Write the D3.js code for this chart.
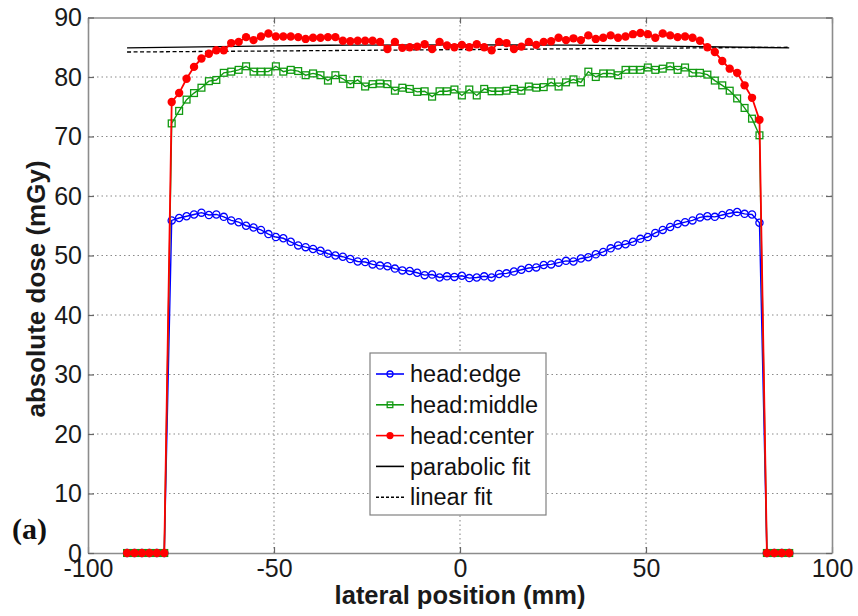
<!DOCTYPE html>
<html>
<head>
<meta charset="utf-8">
<script src="https://cdn.jsdelivr.net/npm/d3@7"></script>
<style>
  body { margin: 0; background: #fff; }
  svg { display: block; }
</style>
</head>
<body>
<svg id="chart" width="858" height="616"></svg>
<script>
// Lateral sample positions (mm)
const positions = [-89.5,-87.5,-85.5,-83.5,-81.5,-79.5,-77.5,-75.5,-73.5,-71.5,-69.5,-67.5,-65.5,-63.5,-61.5,-59.5,-57.5,-55.5,-53.5,-51.5,-49.5,-47.5,-45.5,-43.5,-41.5,-39.5,-37.5,-35.5,-33.5,-31.5,-29.5,-27.5,-25.5,-23.5,-21.5,-19.5,-17.5,-15.5,-13.5,-11.5,-9.5,-7.5,-5.5,-3.5,-1.5,0.5,2.5,4.5,6.5,8.5,10.5,12.5,14.5,16.5,18.5,20.5,22.5,24.5,26.5,28.5,30.5,32.5,34.5,36.5,38.5,40.5,42.5,44.5,46.5,48.5,50.5,52.5,54.5,56.5,58.5,60.5,62.5,64.5,66.5,68.5,70.5,72.5,74.5,76.5,78.5,80.5,82.5,84.5,86.5,88.5];

// Absolute dose (mGy) per phantom location
const headEdge = [0,0,0,0,0,0,
  55.9,56.3,56.6,56.9,57.2,56.8,56.9,56.5,55.9,55.6,55.0,54.7,54.3,53.6,53.1,52.9,52.3,51.7,51.4,51.1,50.8,50.3,50.0,49.8,49.4,49.0,48.9,48.5,48.3,48.2,47.8,47.5,47.4,47.1,46.7,46.8,46.3,46.5,46.4,
  46.6,46.2,46.3,46.5,46.3,46.9,47.0,47.3,47.6,47.9,48.0,48.4,48.5,48.8,49.1,49.0,49.5,49.7,50.2,50.6,51.2,51.7,51.9,52.3,52.8,53.1,53.8,54.3,54.8,55.3,55.6,55.9,56.4,56.6,56.5,56.8,57.1,57.3,57.0,56.9,55.5,
  0,0,0,0];

const headMiddle = [0,0,0,0,0,0,
  72.2,74.3,76.2,77.3,78.2,79.3,79.5,80.7,80.9,81.2,81.8,80.9,80.9,80.9,81.8,80.9,81.2,81.0,80.3,80.6,80.3,79.4,80.3,
  79.7,78.8,79.5,78.4,78.8,78.9,78.8,77.7,78.2,78.0,77.5,77.6,76.7,77.6,77.6,77.9,76.9,77.9,76.9,78.0,77.6,77.6,77.7,78.0,77.7,78.4,78.2,78.3,79.1,78.4,79.1,
  79.6,79.1,80.9,80.0,80.6,80.6,80.3,81.2,81.2,81.2,81.6,81.2,81.4,81.8,81.2,81.6,80.7,80.7,80.4,79.4,78.6,77.7,76.4,74.8,73.0,70.2,
  0,0,0,0];

const headCenter = [0,0,0,0,0,0,
  75.8,77.3,79.7,81.7,83.1,83.9,84.5,84.5,85.7,85.9,86.7,86.2,86.8,87.3,86.8,86.8,86.8,86.7,86.4,86.6,86.6,86.7,86.7,
  86.1,86.0,86.1,86.1,86.1,85.9,84.7,85.9,84.9,85.0,85.1,85.5,84.7,85.9,85.3,85.0,85.4,85.0,85.5,85.0,84.5,85.9,85.7,84.7,85.1,85.9,85.4,85.9,86.0,86.6,86.2,
  86.5,86.2,87.0,86.4,86.6,87.0,86.6,86.8,87.2,87.4,87.2,86.6,87.3,87.0,86.7,86.8,86.6,86.1,85.0,84.2,82.7,81.4,80.7,78.6,76.5,72.8,
  0,0,0,0];

// Fitted profiles of the central dose
const parabolicX = [-89.5,-60,-30,0,30,60,88.5];
const parabolicFit = [84.9,85.15,85.35,85.4,85.35,85.15,84.9];
const linearX = [-89.5,88.5];
const linearFit = [84.2,85.0];

const xTicks = [-100,-50,0,50,100];
const yTicks = [0,10,20,30,40,50,60,70,80,90];
const legendLabels = ["head:edge","head:middle","head:center","parabolic fit","linear fit"];

const svg = d3.select("#chart");
const x = d3.scaleLinear().domain([-100,100]).range([88,832]);
const y = d3.scaleLinear().domain([0,90]).range([553,17.5]);
const FONT = "'Liberation Sans', Arial, Helvetica, sans-serif";
const plainNumber = d => String(d);

// Dotted grid
const grid = svg.append("g").attr("stroke","#8a8a8a").attr("stroke-width",1.1).attr("stroke-dasharray","1.5,3");
grid.selectAll("line.h").data(yTicks.filter(t => t > 0 && t < 90)).join("line")
  .attr("x1", x(-100)).attr("x2", x(100)).attr("y1", d => y(d)).attr("y2", d => y(d));
grid.selectAll("line.v").data(xTicks.filter(t => t > -100 && t < 100)).join("line")
  .attr("y1", y(0)).attr("y2", y(90)).attr("x1", d => x(d)).attr("x2", d => x(d));

// Axes (box with inward ticks)
function styleAxis(g) {
  g.select(".domain").attr("stroke","#8c8c8c").attr("stroke-width",1.6);
  g.selectAll(".tick line").attr("stroke","#666").attr("stroke-width",1.2);
  g.selectAll("text").attr("font-family", FONT).attr("font-size", 25).attr("fill","#1a1a1a");
}
svg.append("g").attr("transform",`translate(0,${y(0)})`)
  .call(d3.axisBottom(x).tickValues(xTicks).tickSize(-6).tickSizeOuter(0).tickPadding(6).tickFormat(plainNumber))
  .call(styleAxis);
svg.append("g").attr("transform",`translate(0,${y(90)})`)
  .call(d3.axisTop(x).tickValues(xTicks).tickSize(-6).tickSizeOuter(0).tickFormat(""))
  .call(styleAxis);
svg.append("g").attr("transform",`translate(${x(-100)},0)`)
  .call(d3.axisLeft(y).tickValues(yTicks).tickSize(-6).tickSizeOuter(0).tickPadding(6).tickFormat(plainNumber))
  .call(styleAxis);
svg.append("g").attr("transform",`translate(${x(100)},0)`)
  .call(d3.axisRight(y).tickValues(yTicks).tickSize(-6).tickSizeOuter(0).tickFormat(""))
  .call(styleAxis);

// Axis titles
svg.append("text").attr("x", 460).attr("y", 604).attr("text-anchor","middle")
  .attr("font-family", FONT).attr("font-weight","bold").attr("font-size", 25.5).attr("fill","#1a1a1a")
  .text("lateral position (mm)");
svg.append("text").attr("transform","translate(45,289) rotate(-90)").attr("text-anchor","middle")
  .attr("font-family", FONT).attr("font-weight","bold").attr("font-size", 26).attr("fill","#1a1a1a")
  .text("absolute dose (mGy)");
svg.append("text").attr("x", 12).attr("y", 539)
  .attr("font-family","'Liberation Serif','Times New Roman',serif").attr("font-weight","bold").attr("font-size", 30).attr("fill","#111")
  .text("(a)");

// Fit lines
svg.append("path").datum(parabolicX.map((v,i) => [v, parabolicFit[i]]))
  .attr("d", d3.line().x(d => x(d[0])).y(d => y(d[1])).curve(d3.curveNatural))
  .attr("fill","none").attr("stroke","#000").attr("stroke-width",1.4);
svg.append("path").datum(linearX.map((v,i) => [v, linearFit[i]]))
  .attr("d", d3.line().x(d => x(d[0])).y(d => y(d[1]))).attr("fill","none")
  .attr("stroke","#000").attr("stroke-width",1.3).attr("stroke-dasharray","4,2.5");

// Measured profiles
const series = [
  { values: headEdge, color: "#0000ff", marker: "circle" },
  { values: headMiddle, color: "#119a11", marker: "square" },
  { values: headCenter, color: "#ff0000", marker: "dot" }
];
const profile = d3.line().x(d => x(d[0])).y(d => y(d[1]));

function drawMarker(sel, kind, color) {
  if (kind === "circle") {
    sel.append("circle").attr("r", 3.6).attr("fill","none").attr("stroke", color).attr("stroke-width",1.3);
  } else if (kind === "square") {
    sel.append("rect").attr("x",-3.4).attr("y",-3.4).attr("width",6.8).attr("height",6.8)
      .attr("fill","none").attr("stroke", color).attr("stroke-width",1.3);
  } else {
    sel.append("circle").attr("r", 4.2).attr("fill", color);
  }
}

series.forEach(s => {
  const pts = positions.map((p,i) => [p, s.values[i]]);
  const g = svg.append("g");
  g.append("path").datum(pts).attr("d", profile).attr("fill","none")
    .attr("stroke", s.color).attr("stroke-width", s.marker === "dot" ? 1.8 : 1.4);
  g.selectAll("g.m").data(pts).join("g")
    .attr("transform", d => `translate(${x(d[0])},${y(d[1])})`)
    .each(function() { drawMarker(d3.select(this), s.marker, s.color); });
});

// Legend
const legend = svg.append("g");
legend.append("rect").attr("x",370).attr("y",353).attr("width",176).attr("height",162)
  .attr("fill","#fff").attr("stroke","#808080").attr("stroke-width",1.2);
const legendStyles = [
  { color: "#0000ff", marker: "circle", dash: null },
  { color: "#119a11", marker: "square", dash: null },
  { color: "#ff0000", marker: "dot", dash: null },
  { color: "#000", marker: null, dash: null },
  { color: "#000", marker: null, dash: "3,2" }
];
legendLabels.forEach((label, i) => {
  const cy = 374 + i * 30.8;
  const st = legendStyles[i];
  const row = legend.append("g");
  row.append("line").attr("x1",376).attr("x2",404).attr("y1",cy).attr("y2",cy)
    .attr("stroke", st.color).attr("stroke-width", 1.6).attr("stroke-dasharray", st.dash);
  if (st.marker) {
    const m = row.append("g").attr("transform",`translate(390,${cy})`);
    drawMarker(m, st.marker, st.color);
    m.selectAll("circle").attr("r", st.marker === "dot" ? 3.6 : 3);
    m.selectAll("rect").attr("x",-2.8).attr("y",-2.8).attr("width",5.6).attr("height",5.6);
  }
  row.append("text").attr("x",410).attr("y",cy).attr("dy","0.35em")
    .attr("font-family", FONT).attr("font-size", 23.5).attr("fill","#111").text(label);
});
</script>
</body>
</html>
